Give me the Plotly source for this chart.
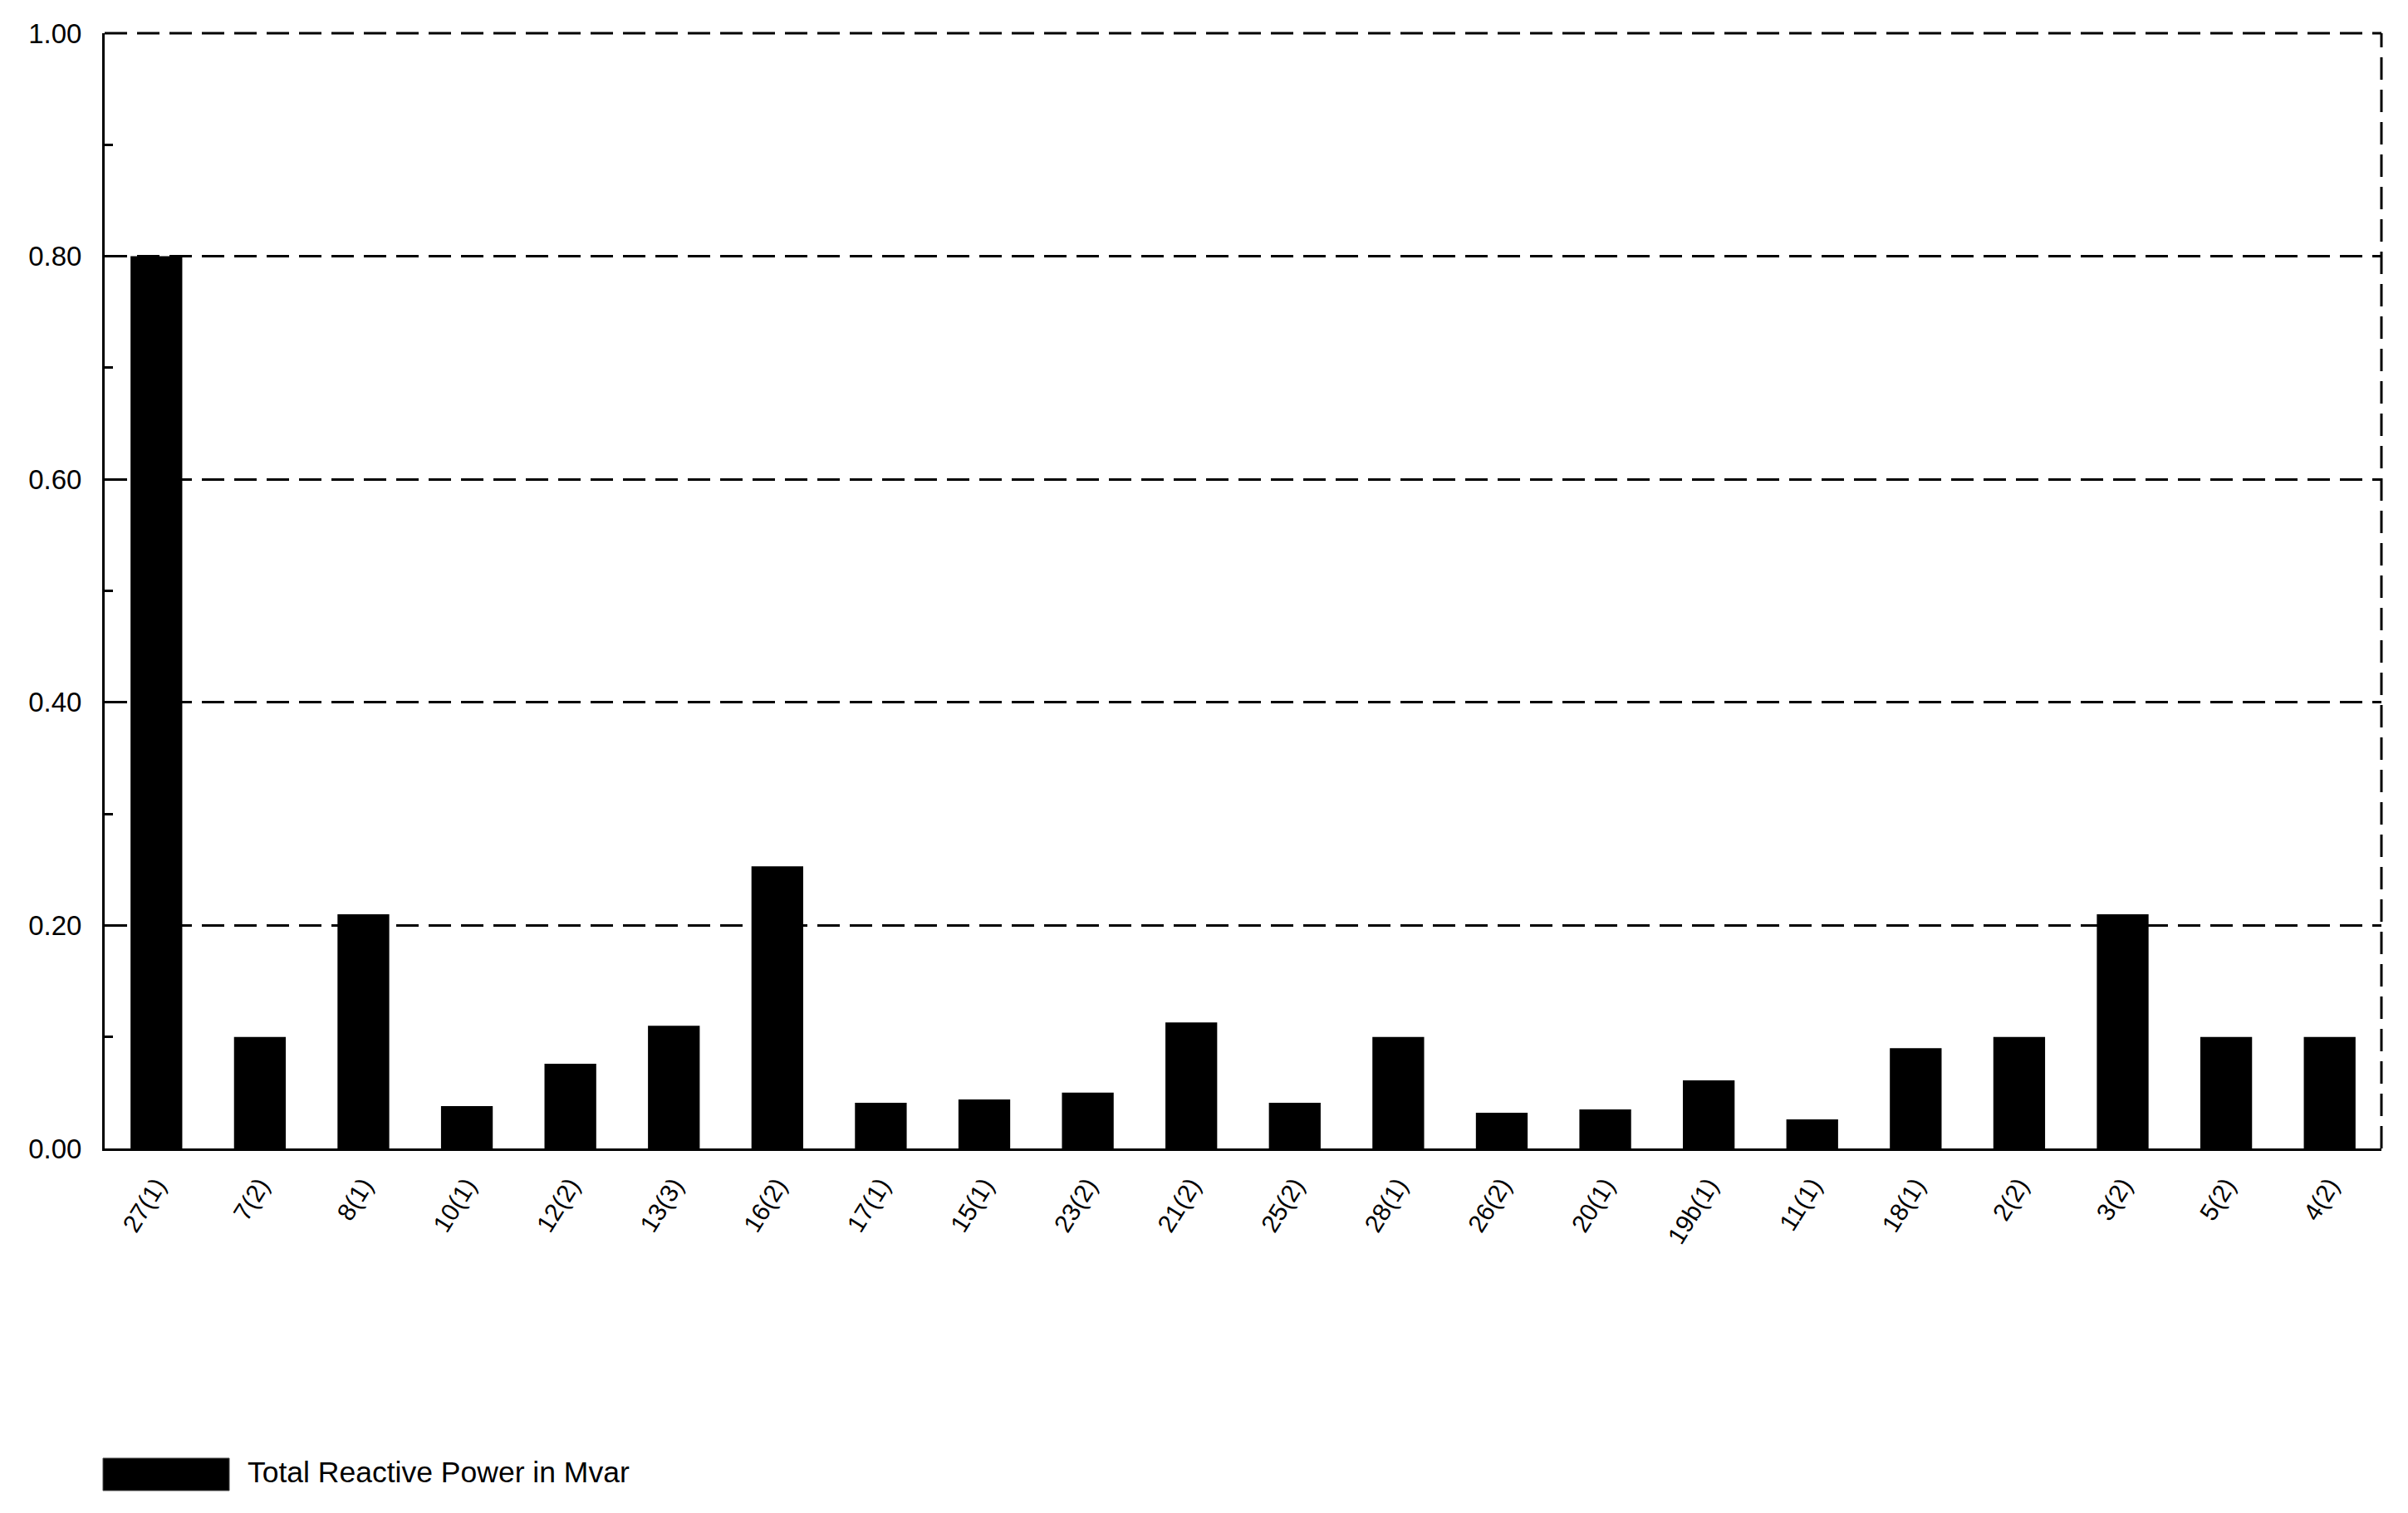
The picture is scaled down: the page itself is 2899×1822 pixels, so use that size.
import plotly.graph_objects as go

categories = ["27(1)", "7(2)", "8(1)", "10(1)", "12(2)", "13(3)", "16(2)", "17(1)", "15(1)",
              "23(2)", "21(2)", "25(2)", "28(1)", "26(2)", "20(1)", "19b(1)", "11(1)", "18(1)",
              "2(2)", "3(2)", "5(2)", "4(2)"]
reactive_power = [0.80, 0.10, 0.21, 0.038, 0.076, 0.11, 0.253, 0.041, 0.044,
                  0.050, 0.113, 0.041, 0.10, 0.032, 0.035, 0.061, 0.026, 0.090,
                  0.10, 0.21, 0.10, 0.10]
series_name = "Total Reactive Power in Mvar"
y_tickvals = [0.0, 0.2, 0.4, 0.6, 0.8, 1.0]

FONT = "Liberation Sans, Arial, sans-serif"

fig = go.Figure()
fig.add_trace(go.Bar(
    x=categories, y=reactive_power, name=series_name,
    marker=dict(color="black", line=dict(width=0)),
    showlegend=False,
))

# page body has an 8px margin: figure drawn offset by 8px
OFF = 8
W, H = 2899 - 2 * OFF, 1822 - 2 * OFF
L, T = 126 - OFF, 40 - OFF
R = W - (2867 - OFF)
B = H - (1383 - OFF)
pw, ph = W - L - R, H - T - B

fig.update_layout(
    width=W, height=H,
    margin=dict(l=L, r=R, t=T, b=B, pad=0),
    paper_bgcolor="white", plot_bgcolor="white",
    bargap=0.5,
    font=dict(family=FONT, size=33, color="black"),
    xaxis=dict(
        type="category",
        showline=True, linecolor="black", linewidth=3,
        showgrid=False, ticks="", tickangle=-58,
        tickfont=dict(size=30, family=FONT),
        ticklabelstandoff=12,
        zeroline=False,
    ),
    yaxis=dict(
        range=[0, 1.0], tickvals=y_tickvals, tickformat=".2f",
        showline=True, linecolor="black", linewidth=3,
        showgrid=True, gridcolor="black", gridwidth=3, griddash="27px,12px",
        ticks="inside", ticklen=10, tickwidth=3, tickcolor="black",
        minor=dict(dtick=0.1, ticks="inside", ticklen=10, tickwidth=3, tickcolor="black", showgrid=False),
        tickfont=dict(size=33, family=FONT),
        ticklabelstandoff=18,
        zeroline=False,
    ),
)

# dashed top and right frame
fig.add_shape(type="line", xref="paper", yref="paper", x0=1, x1=1, y0=0, y1=1,
              line=dict(color="black", width=3, dash="27px,12px"))
fig.add_shape(type="line", xref="paper", yref="paper", x0=0, x1=1, y0=1, y1=1,
              line=dict(color="black", width=3, dash="27px,12px"))

# legend (box + text), positions given in page pixels
def px_x(x):
    return (x - OFF - L) / pw

def px_y(y):
    return (H - B - (y - OFF)) / ph

fig.add_shape(type="rect", xref="paper", yref="paper",
              x0=px_x(124), x1=px_x(276), y0=px_y(1795), y1=px_y(1756),
              fillcolor="black", line=dict(color="#444", width=1))
fig.add_annotation(xref="paper", yref="paper", x=px_x(296), y=px_y(1773),
                   text=series_name, showarrow=False, xanchor="left", yanchor="middle",
                   font=dict(size=35.5, family=FONT, color="black"))

fig.write_html("out.html")
